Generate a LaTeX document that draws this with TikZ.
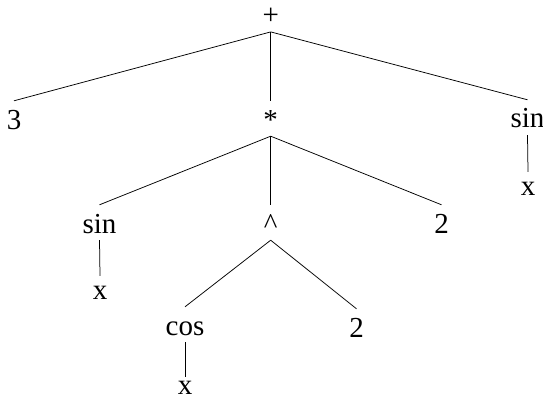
\documentclass[tikz,border=0pt]{standalone}
\usepackage{fontspec}
\setmainfont{Liberation Serif}
\begin{document}
\begin{tikzpicture}[x=1pt,y=-1pt,
  lbl/.style={anchor=base,inner xsep=0pt,inner ysep=7pt,text height=21pt,text depth=0pt,font=\fontsize{29}{34}\selectfont},
  leaf/.style={lbl,text height=16pt},
  edge/.style={line width=0.75pt,black}]
\useasboundingbox (0,0) rectangle (543,401);
\node[lbl] (plus) at (270.7,24.7) {+};
\node[lbl] (three) at (14,129) {3};
\node[lbl] (times) at (270.7,129) {*};
\node[lbl] (sinR) at (527.5,128) {sin};
\node[leaf] (xR) at (528,195) {x};
\node[lbl] (sinL) at (99.5,233) {sin};
\node[leaf] (xL) at (100,299) {x};
\node[lbl] (pow) at (270.7,233) {\^{}};
\node[lbl] (twoA) at (441.5,233) {2};
\node[lbl] (cos) at (185,335) {cos};
\node[lbl] (twoB) at (356.5,337) {2};
\node[leaf,inner ysep=1.5pt,text height=15pt] (xB) at (185,394) {x};
\draw[edge] (plus.south) -- (three.north);
\draw[edge] (plus.south) -- (times.north);
\draw[edge] (plus.south) -- (sinR.north);
\draw[edge] (sinR.south) -- (xR.north);
\draw[edge] (times.south) -- (sinL.north);
\draw[edge] (times.south) -- (pow.north);
\draw[edge] (times.south) -- (twoA.north);
\draw[edge] (sinL.south) -- (xL.north);
\draw[edge] (pow.south) -- (cos.north);
\draw[edge] (pow.south) -- (twoB.north);
\draw[edge] (cos.south) -- (xB.north);
\end{tikzpicture}
\end{document}
